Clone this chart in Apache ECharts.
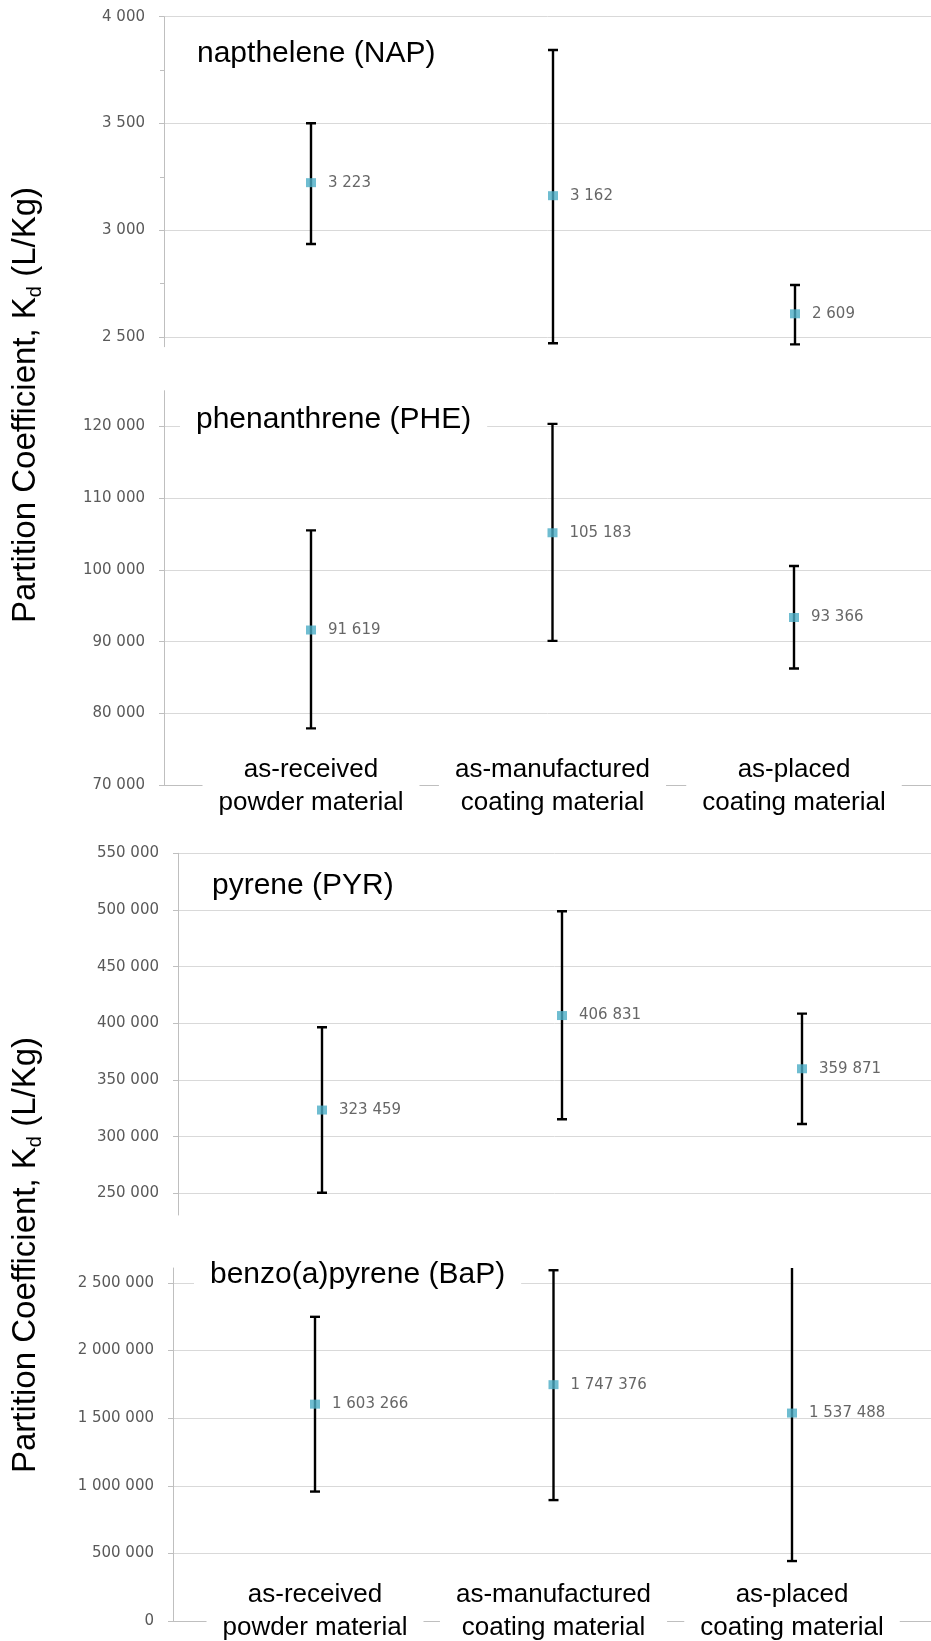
<!DOCTYPE html>
<html><head><meta charset="utf-8">
<script src="https://cdn.jsdelivr.net/npm/echarts@6/dist/echarts.min.js"></script>
<style>html,body{margin:0;padding:0;background:#fff}#c{width:931px;height:1641px}</style>
</head><body><div id="c"></div>
<script>
// ---- data ----
const categories = ['as-received\npowder material', 'as-manufactured\ncoating material', 'as-placed\ncoating material'];
const compounds = ['napthelene (NAP)', 'phenanthrene (PHE)', 'pyrene (PYR)', 'benzo(a)pyrene (BaP)'];

const napMean = [3223, 3162, 2609];
const napLow  = [2936, 2471, 2466];
const napHigh = [3501, 3844, 2744];

const pheMean = [91619, 105183, 93366];
const pheLow  = [77897, 90097, 86253];
const pheHigh = [105515, 120376, 100543];

const pyrMean = [323459, 406831, 359871];
const pyrLow  = [250459, 315308, 311170];
const pyrHigh = [396480, 498826, 408540];

const bapMean = [1603266, 1747376, 1537488];
const bapLow  = [957000, 894000, 443300];
const bapHigh = [2249000, 2593500, 2631000];

const napTicks = [2500, 3000, 3500, 4000];
const napMinorTicks = [2750, 3250, 3750];
const pheTicks = [70000, 80000, 90000, 100000, 110000, 120000];
const pyrTicks = [250000, 300000, 350000, 400000, 450000, 500000, 550000];
const bapTicks = [0, 500000, 1000000, 1500000, 2000000, 2500000];

const napRange = [2455, 4000];
const pheRange = [70000, 125000];
const pyrRange = [230850, 550000];
const bapRange = [0, 2610000];

const yTitle = '{a|Partition Coefficient, K}{b|d}{a| (L/Kg)}';

// ---- layout ----
const W = 931;
const panels = [
  {mean: napMean, low: napLow, high: napHigh, ticks: napTicks, range: napRange, minor: napMinorTicks,
   left: 164, top: 16.7, height: 330, centers: [311, 553, 795], xLabels: false, margin: 0,
   title: {left: 181, top: 36.5}},
  {mean: pheMean, low: pheLow, high: pheHigh, ticks: pheTicks, range: pheRange,
   left: 164, top: 390.7, height: 394.3, centers: [311, 552, 794], xLabels: true, margin: -31.5,
   title: {left: 180, top: 403}},
  {mean: pyrMean, low: pyrLow, high: pyrHigh, ticks: pyrTicks, range: pyrRange,
   left: 178, top: 853.3, height: 361.7, centers: [322, 562, 802], xLabels: false, margin: 0,
   title: {left: 196, top: 868.5}},
  {mean: bapMean, low: bapLow, high: bapHigh, ticks: bapTicks, range: bapRange,
   left: 173, top: 1268, height: 353, centers: [315, 553, 792], xLabels: true, margin: -42.5,
   title: {left: 194, top: 1258}}
];

const fmt = v => String(Math.round(v)).replace(/\B(?=(\d{3})+(?!\d))/g, ' ');
const AXIS_GREY = '#bfbfbf', GRID_GREY = '#d9d9d9';
const NUM_FONT = 'DejaVu Sans', TXT_FONT = 'Liberation Sans';

const grids = [], xAxes = [], yAxes = [], series = [], titles = [];

panels.forEach((p, i) => {
  grids.push({left: p.left, top: p.top, width: W - p.left, height: p.height,
              containLabel: false, outerBoundsMode: 'none'});
  const c = p.centers, w = (c[2] - c[0]) / 2;
  xAxes.push({
    gridIndex: i, type: 'value', z: 10,
    min: -(c[0] - p.left) / w, max: 2 + (W - c[2]) / w,
    axisLine: {show: p.xLabels, onZero: false, lineStyle: {color: AXIS_GREY, width: 1}},
    axisTick: {show: false},
    splitLine: {show: false},
    axisLabel: {
      show: p.xLabels, customValues: [0, 1, 2], margin: p.margin,
      formatter: v => categories[Math.round(v)] || '',
      fontFamily: TXT_FONT, fontSize: 26, lineHeight: 33, color: '#000',
      backgroundColor: '#fff', padding: [0, 16]
    }
  });
  const yi = yAxes.length;
  yAxes.push({
    gridIndex: i, type: 'value', position: 'left', min: p.range[0], max: p.range[1],
    axisLine: {show: true, onZero: false, lineStyle: {color: AXIS_GREY, width: 1}},
    axisTick: {show: true, inside: false, length: 5, customValues: p.ticks, lineStyle: {color: AXIS_GREY}},
    axisLabel: {show: true, customValues: p.ticks, margin: 19, formatter: v => fmt(v),
                fontFamily: NUM_FONT, fontSize: 15, color: '#595959'},
    splitLine: {show: true, lineStyle: {color: GRID_GREY, width: 1}}
  });
  if (p.minor) {
    yAxes.push({
      gridIndex: i, type: 'value', position: 'left', offset: 0, min: p.range[0], max: p.range[1],
      axisLine: {show: false, onZero: false},
      axisTick: {show: true, length: 4, customValues: p.minor, lineStyle: {color: AXIS_GREY}},
      axisLabel: {show: false}, splitLine: {show: false}
    });
  }
  series.push({
    type: 'custom', xAxisIndex: i, yAxisIndex: yi, clip: true, z: 2, silent: true,
    data: p.mean.map((m, j) => [j, p.low[j], p.high[j]]),
    renderItem: (params, api) => {
      const x = api.value(0);
      const t = api.coord([x, api.value(2)]);
      const b = api.coord([x, api.value(1)]);
      const hw = 5, st = {stroke: '#000', lineWidth: 2.4};
      return {type: 'group', children: [
        {type: 'line', shape: {x1: t[0], y1: t[1], x2: b[0], y2: b[1]}, style: st},
        {type: 'line', shape: {x1: t[0] - hw, y1: t[1], x2: t[0] + hw, y2: t[1]}, style: st},
        {type: 'line', shape: {x1: b[0] - hw, y1: b[1], x2: b[0] + hw, y2: b[1]}, style: st}
      ]};
    }
  });
  series.push({
    type: 'scatter', xAxisIndex: i, yAxisIndex: yi, z: 3,
    symbol: 'rect', symbolSize: [10, 9],
    itemStyle: {color: '#4BACC6'},
    data: p.mean.map((m, j) => [j, m]),
    label: {show: true, position: 'right', distance: 12, formatter: q => fmt(q.value[1]),
            fontFamily: NUM_FONT, fontSize: 15, color: '#404040'}
  });
  titles.push({
    text: compounds[i], left: p.title.left, top: p.title.top,
    backgroundColor: '#fff', padding: [2, 16],
    textStyle: {fontFamily: TXT_FONT, fontSize: 30, fontWeight: 'normal', color: '#000'}
  });
});

const yTitleStyle = {
  text: yTitle, align: 'center', verticalAlign: 'middle',
  rich: {
    a: {fontFamily: TXT_FONT, fontSize: 33, lineHeight: 38, color: '#000'},
    b: {fontFamily: TXT_FONT, fontSize: 20, lineHeight: 20, verticalAlign: 'bottom', color: '#000'}
  }
};

const chart = echarts.init(document.getElementById('c'), null, {renderer: 'canvas'});
chart.setOption({
  animation: false,
  backgroundColor: '#fff',
  title: titles,
  grid: grids,
  xAxis: xAxes,
  yAxis: yAxes,
  series: series,
  graphic: [
    {type: 'text', x: 26, y: 405, rotation: Math.PI / 2, style: yTitleStyle, z: 100},
    {type: 'text', x: 26, y: 1255, rotation: Math.PI / 2, style: yTitleStyle, z: 100}
  ]
});
</script></body></html>
